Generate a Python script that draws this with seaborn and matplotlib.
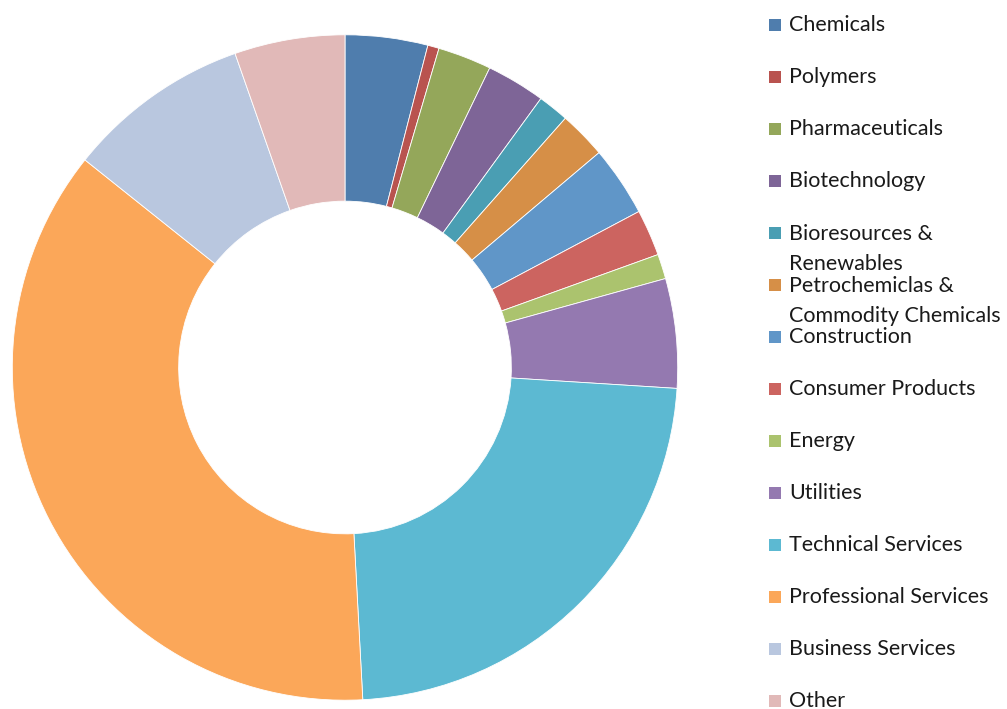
import matplotlib
matplotlib.use("Agg")
import matplotlib.pyplot as plt
from matplotlib.patches import Rectangle
import seaborn as sns

# Share of members by sector (percent)
sectors = [
    "Chemicals", "Polymers", "Pharmaceuticals", "Biotechnology",
    "Bioresources &\nRenewables", "Petrochemiclas &\nCommodity Chemicals",
    "Construction", "Consumer Products", "Energy", "Utilities",
    "Technical Services", "Professional Services", "Business Services", "Other",
]
shares = [4.0, 0.55, 2.6, 2.85, 1.5, 2.3, 3.4, 2.25, 1.2, 5.3, 23.1, 36.5, 8.9, 5.35]
colors = [
    "#4F7DAD", "#B9534F", "#94A75A", "#7E6597", "#4A9EB3", "#D68F47",
    "#6096C8", "#CC6460", "#ABC36E", "#9479B0", "#5CB9D2", "#FBA759",
    "#B9C7DF", "#E1B9B8",
]

sns.set_theme(style="white")
plt.rcParams["font.family"] = ["Lato", "DejaVu Sans"]
palette = sns.color_palette(colors)

W, H, DPI = 1007, 709, 100
fig = plt.figure(figsize=(W / DPI, H / DPI), dpi=DPI)

# Donut axes: centre and radius in pixels
cx, cy, r = 345, 367.5, 332.7
ax = fig.add_axes([(cx - r) / W, (H - cy - r) / H, 2 * r / W, 2 * r / H])
ax.pie(
    shares, colors=palette, startangle=90, counterclock=False,
    wedgeprops=dict(width=0.5, edgecolor="white", linewidth=0.6),
)
ax.set_xlim(-1, 1)
ax.set_ylim(-1, 1)
ax.set_aspect("equal")
ax.axis("off")

# Legend: one row every 52 px, square swatch followed by the label
first_y, step = 25, 52
sw = 12
for i, (name, col) in enumerate(zip(sectors, palette)):
    yc = first_y + i * step
    fig.patches.append(Rectangle(
        (769 / W, (H - yc - sw / 2) / H), sw / W, sw / H,
        transform=fig.transFigure, facecolor=col, edgecolor="none",
    ))
    wrapped = "\n" in name
    # wrapped labels: put the first line's centre on the row centre
    ty = yc - 9 if wrapped else yc
    fig.text(789 / W, (H - ty) / H, name, fontsize=15.5, color="#1a1a1a",
             ha="left", va="top" if wrapped else "center",
             linespacing=1.62)

fig.savefig("out.png", dpi=DPI, facecolor="white")
